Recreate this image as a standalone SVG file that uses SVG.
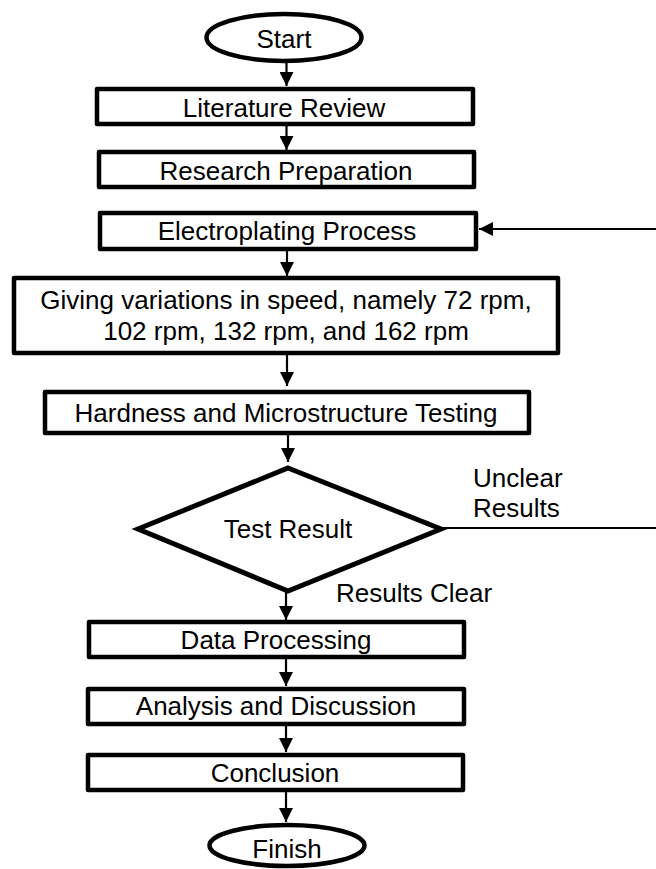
<svg xmlns="http://www.w3.org/2000/svg" width="656" height="869" viewBox="0 0 656 869">
  <style>
    .box { fill: #ffffff; stroke: #000000; stroke-width: 4.5; stroke-linejoin: round; }
    .term { fill: #ffffff; stroke: #000000; stroke-width: 4.5; }
    .dec { fill: #ffffff; stroke: #000000; stroke-width: 5; stroke-linejoin: miter; }
    .lbl { font-family: "Liberation Sans", Arial, sans-serif; font-size: 26px; fill: #000000; text-anchor: middle; }
    .note { font-family: "Liberation Sans", Arial, sans-serif; font-size: 26px; fill: #000000; text-anchor: start; }
    .conn { fill: none; stroke: #000000; stroke-width: 2.2; }
  </style>
  <defs>
    <marker id="arrow" markerUnits="userSpaceOnUse" markerWidth="14" markerHeight="14" refX="14" refY="7" orient="auto">
      <path d="M0,0 L14,7 L0,14 z" fill="#000000"/>
    </marker>
  </defs>
  <rect width="656" height="869" fill="#ffffff"/>

  <g id="connectors">
    <path class="conn" d="M286.5,62 V86" marker-end="url(#arrow)"/>
    <path class="conn" d="M286.5,126 V150" marker-end="url(#arrow)"/>
    <path class="conn" d="M287,251 V276" marker-end="url(#arrow)"/>
    <path class="conn" d="M287,355 V386" marker-end="url(#arrow)"/>
    <path class="conn" d="M288,435 V462" marker-end="url(#arrow)"/>
    <path class="conn" d="M286,592 V620" marker-end="url(#arrow)"/>
    <path class="conn" d="M286,659 V686" marker-end="url(#arrow)"/>
    <path class="conn" d="M286,726 V752" marker-end="url(#arrow)"/>
    <path class="conn" d="M286,792 V822" marker-end="url(#arrow)"/>
    <path class="conn" d="M442,528 H664 V229 H479" marker-end="url(#arrow)"/>
  </g>

  <g id="start">
    <ellipse class="term" cx="284" cy="37.5" rx="77.5" ry="23.5"/>
    <text class="lbl" x="284" y="48">Start</text>
  </g>
  <g id="literature-review">
    <rect class="box" x="97" y="89" width="376" height="35"/>
    <text class="lbl" x="284" y="117">Literature Review</text>
  </g>
  <g id="research-preparation">
    <rect class="box" x="99" y="152" width="375" height="35"/>
    <text class="lbl" x="286" y="180">Research Preparation</text>
  </g>
  <g id="electroplating-process">
    <rect class="box" x="100" y="213" width="376" height="36"/>
    <text class="lbl" x="287" y="240">Electroplating Process</text>
  </g>
  <g id="speed-variations">
    <rect class="box" x="14" y="278" width="544" height="75"/>
    <text class="lbl" x="286" y="309">Giving variations in speed, namely 72 rpm,</text>
    <text class="lbl" x="286" y="340">102 rpm, 132 rpm, and 162 rpm</text>
  </g>
  <g id="testing">
    <rect class="box" x="45" y="392" width="484" height="41"/>
    <text class="lbl" x="286" y="422">Hardness and Microstructure Testing</text>
  </g>
  <g id="test-result">
    <polygon class="dec" points="288,468 441,529 288,591 138,529"/>
    <text class="lbl" x="288" y="538">Test Result</text>
  </g>
  <g id="unclear-label">
    <text class="note" x="473" y="487">Unclear</text>
    <text class="note" x="473" y="517">Results</text>
  </g>
  <g id="clear-label">
    <text class="note" x="336" y="602">Results Clear</text>
  </g>
  <g id="data-processing">
    <rect class="box" x="89" y="622" width="375" height="35"/>
    <text class="lbl" x="276" y="649">Data Processing</text>
  </g>
  <g id="analysis-discussion">
    <rect class="box" x="88" y="689" width="376" height="35"/>
    <text class="lbl" x="276" y="715">Analysis and Discussion</text>
  </g>
  <g id="conclusion">
    <rect class="box" x="88" y="755" width="375" height="35"/>
    <text class="lbl" x="275" y="782">Conclusion</text>
  </g>
  <g id="finish">
    <ellipse class="term" cx="287" cy="845.5" rx="77.5" ry="20.5"/>
    <text class="lbl" x="287" y="858">Finish</text>
  </g>
</svg>
